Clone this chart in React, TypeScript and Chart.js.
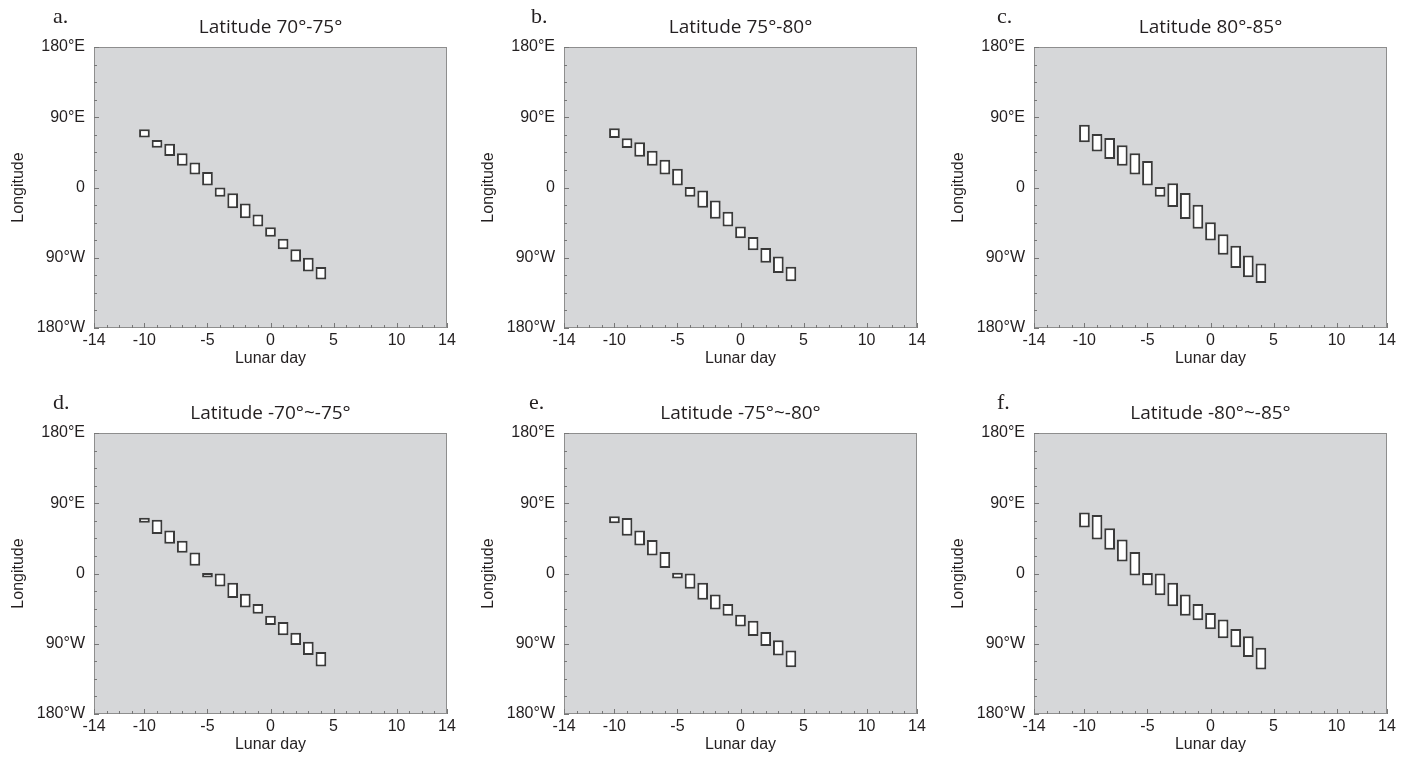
import React, { useEffect, useRef } from "react";
import { Chart, registerables } from "chart.js";

Chart.register(...registerables);

// ---------- data ----------
const lunarDays = [-10, -9, -8, -7, -6, -5, -4, -3, -2, -1, 0, 1, 2, 3, 4];

const xTickValues = [-14, -13, -12, -11, -10, -9, -8, -7, -6, -5, -4, -3, -2, -1, 0, 1, 2, 3, 4, 5, 6, 7, 8, 9, 10, 11, 12, 13, 14];
const xLabelValues = [-14, -10, -5, 0, 5, 10, 14];

const yTickValues = [-180, -157.5, -135, -112.5, -90, -67.5, -45, -22.5, 0, 22.5, 45, 67.5, 90, 112.5, 135, 157.5, 180];
const yLabelValues = [-180, -90, 0, 90, 180];
const yLabelTexts = ["180°W", "90°W", "0", "90°E", "180°E"];

const lonMinA = [64, 51, 40.5, 28, 16.5, 2.5, -12, -26.5, -39.5, -50, -63, -79, -95, -107.5, -118];
const lonMaxA = [74.5, 61, 56, 44, 32, 20, 0, -7.5, -20.5, -34.5, -51, -65.5, -79, -90, -102];

const lonMinB = [63.5, 50.5, 39.5, 28, 16.5, 2.5, -12, -26, -40, -50, -65, -80.5, -96.5, -109.5, -120];
const lonMaxB = [76, 63, 58, 47, 35.5, 24, 0.5, -4, -16.5, -31, -50, -63.5, -77.5, -88.5, -101.5];

const lonMinC = [58, 46, 36.5, 28, 16.5, 2.5, -12, -25, -40.5, -53, -68, -86, -103, -115, -122.5];
const lonMaxC = [80.5, 68.5, 63.5, 54, 44, 34, 0.5, 5.5, -7, -22, -44.5, -60, -74.5, -87, -97.5];

const lonMinD = [65, 50.5, 38, 26.5, 10, -5, -16.5, -31.5, -43.5, -51.5, -66, -79, -91.5, -104.5, -119];
const lonMaxD = [71.5, 69, 55, 42, 27, 0.8, 0, -12, -26, -39, -54, -62, -76, -87.5, -100.5];

const lonMinE = [64.5, 48.5, 36, 23, 7, -6.5, -19.5, -33.5, -46, -54, -68, -80, -93, -105, -120];
const lonMaxE = [73.5, 71, 55, 43, 27.5, 1, 0, -12, -27, -39, -53, -60.5, -75, -85.5, -98.5];

const lonMinF = [59, 43.5, 30.5, 15.5, -2.5, -15.5, -28, -42, -54, -60, -71.5, -83, -94.5, -107, -123];
const lonMaxF = [78, 75, 58, 43.5, 27.5, 0.5, 0, -12, -27, -39, -50.5, -59, -71, -80.5, -95];

const panelLetters = ["a.", "b.", "c.", "d.", "e.", "f."];
const panelTitles = [
  "Latitude 70°-75°",
  "Latitude 75°-80°",
  "Latitude 80°-85°",
  "Latitude -70°~-75°",
  "Latitude -75°~-80°",
  "Latitude -80°~-85°",
];
const panelMins = [lonMinA, lonMinB, lonMinC, lonMinD, lonMinE, lonMinF];
const panelMaxs = [lonMaxA, lonMaxB, lonMaxC, lonMaxD, lonMaxE, lonMaxF];

// ---------- layout / style ----------
const CANVAS_W = 470;
const CANVAS_H = 387;
const colLefts = [0, 470, 940];
const rowTops = [0, 386];
const letterLefts = [53, 61, 57, 53, 59, 57];

const TEXT = "#231f20";
const SANS = '"Liberation Sans", Arial, Helvetica, sans-serif';

const framePlugin = {
  id: "frame",
  beforeDatasetsDraw(chart: any) {
    const { ctx, chartArea } = chart;
    ctx.save();
    ctx.fillStyle = "#d6d7d9";
    ctx.fillRect(chartArea.left, chartArea.top, chartArea.right - chartArea.left, chartArea.bottom - chartArea.top);
    ctx.restore();
  },
  afterDatasetsDraw(chart: any) {
    const { ctx, chartArea, scales } = chart;
    ctx.save();
    ctx.strokeStyle = "#8e8e8e";
    ctx.lineWidth = 1;
    ctx.strokeRect(chartArea.left + 0.5, chartArea.top + 0.5, chartArea.right - chartArea.left - 1, chartArea.bottom - chartArea.top - 1);
    ctx.strokeStyle = "#777";
    ctx.beginPath();
    scales.x.ticks.forEach((t: any) => {
      const px = Math.round(scales.x.getPixelForValue(t.value)) + 0.5;
      const len = xLabelValues.includes(t.value) ? 5 : 3;
      ctx.moveTo(px, chartArea.bottom);
      ctx.lineTo(px, chartArea.bottom - len);
    });
    scales.y.ticks.forEach((t: any) => {
      const py = Math.round(scales.y.getPixelForValue(t.value)) + 0.5;
      const len = yLabelValues.includes(t.value) ? 5 : 3;
      ctx.moveTo(chartArea.left, py);
      ctx.lineTo(chartArea.left + len, py);
    });
    ctx.stroke();
    ctx.restore();
  },
};

function Panel({ index }: { index: number }) {
  const ref = useRef<HTMLCanvasElement | null>(null);
  const mins = panelMins[index];
  const maxs = panelMaxs[index];

  useEffect(() => {
    if (!ref.current) return;
    const chart = new Chart(ref.current, {
      type: "bar",
      data: {
        datasets: [
          {
            data: lunarDays.map((d, i) => ({ x: d, y: [mins[i], maxs[i]] })) as any,
            backgroundColor: "#ffffff",
            borderColor: "#3a3a3a",
            borderWidth: 2,
            borderSkipped: false,
            barPercentage: 0.85,
            categoryPercentage: 1,
          },
        ],
      },
      options: {
        animation: false,
        responsive: false,
        maintainAspectRatio: false,
        devicePixelRatio: 1,
        layout: { padding: { top: 0, left: 0, right: 23, bottom: 0 } },
        plugins: {
          legend: { display: false },
          tooltip: { enabled: false },
          title: {
            display: true,
            text: panelTitles[index],
            fullSize: false,
            color: TEXT,
            font: { family: '"Open Sans", "Noto Sans", sans-serif', size: 19, weight: "normal", lineHeight: 1.2 },
            padding: { top: 16.3, bottom: 7.9 },
          },
        },
        scales: {
          x: {
            type: "linear",
            min: -14,
            max: 14,
            offset: false,
            grid: { display: false, offset: false, drawTicks: false },
            border: { display: false },
            afterBuildTicks: (s: any) => {
              s.ticks = xTickValues.map((v) => ({ value: v }));
            },
            afterFit: (s: any) => {
              s.height = 59;
            },
            ticks: {
              autoSkip: false,
              maxRotation: 0,
              minRotation: 0,
              padding: 3,
              color: TEXT,
              font: { family: SANS, size: 16 },
              callback: (v: any) => (xLabelValues.includes(Number(v)) ? String(v) : ""),
            },
            title: {
              display: true,
              text: "Lunar day",
              color: TEXT,
              font: { family: SANS, size: 16 },
              padding: { top: 0, bottom: 19 },
            },
          },
          y: {
            type: "linear",
            min: -180,
            max: 180,
            grid: { display: false, drawTicks: false },
            border: { display: false },
            afterBuildTicks: (s: any) => {
              s.ticks = yTickValues.map((v) => ({ value: v }));
            },
            afterFit: (s: any) => {
              s.width = 94;
            },
            ticks: {
              autoSkip: false,
              padding: 9,
              color: TEXT,
              font: { family: SANS, size: 16 },
              callback: (v: any) => {
                const k = yLabelValues.indexOf(Number(v));
                return k >= 0 ? yLabelTexts[k] : "";
              },
            },
            title: {
              display: true,
              text: "Longitude",
              color: TEXT,
              font: { family: SANS, size: 16 },
              padding: { top: 9, bottom: 0 },
            },
          },
        },
      } as any,
      plugins: [framePlugin],
    });
    return () => chart.destroy();
  }, [index]);

  const col = index % 3;
  const row = Math.floor(index / 3);
  return (
    <div
      style={{
        position: "absolute",
        left: colLefts[col],
        top: rowTops[row],
        width: CANVAS_W,
        height: CANVAS_H,
      }}
    >
      <canvas ref={ref} width={CANVAS_W} height={CANVAS_H} style={{ width: CANVAS_W, height: CANVAS_H, display: "block" }} />
      <div
        style={{
          position: "absolute",
          left: letterLefts[index],
          top: 5,
          fontFamily: '"Liberation Serif", "Times New Roman", serif',
          fontSize: 22,
          lineHeight: "22px",
          color: TEXT,
        }}
      >
        {panelLetters[index]}
      </div>
    </div>
  );
}

export default function App() {
  return (
    <div
      style={{
        position: "fixed",
        left: 0,
        top: 0,
        width: 1410,
        height: 758,
        overflow: "hidden",
        background: "#ffffff",
      }}
    >
      {[0, 1, 2, 3, 4, 5].map((i) => (
        <Panel key={i} index={i} />
      ))}
    </div>
  );
}
